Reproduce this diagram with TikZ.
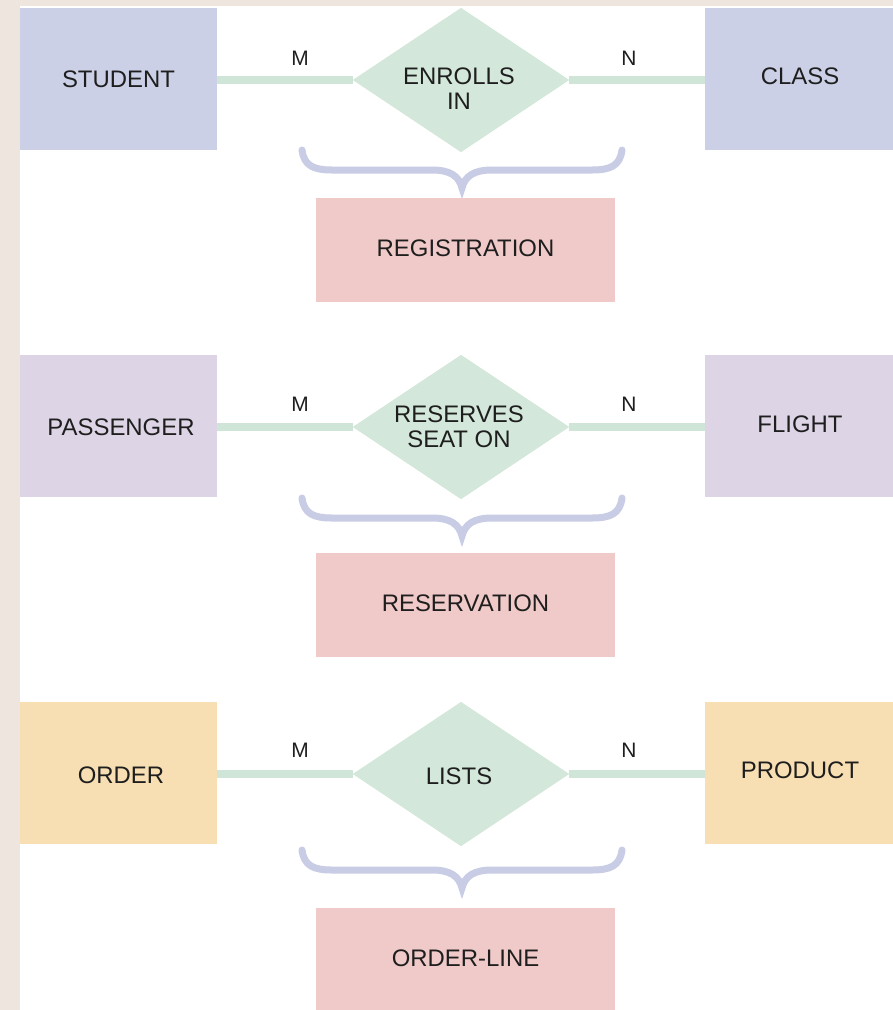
\documentclass[tikz,border=0pt]{standalone}
\usepackage{fontspec}
\setmainfont{Liberation Sans}
\usetikzlibrary{shapes.geometric}
\definecolor{bgbeige}{HTML}{EEE6DE}
\definecolor{entblue}{HTML}{CBD0E7}
\definecolor{entlilac}{HTML}{DDD4E6}
\definecolor{entorange}{HTML}{F7DFB3}
\definecolor{relgreen}{HTML}{D3E7DA}
\definecolor{linkgreen}{HTML}{CFE5D7}
\definecolor{assocpink}{HTML}{F0CAC8}
\definecolor{bracelav}{HTML}{C8CCE5}
\definecolor{txt}{HTML}{1E1E1E}
\tikzset{
  x=1bp, y=-1bp,
  lbl/.style={font=\fontsize{24}{25}\selectfont, text=txt, inner sep=0pt, align=center},
  ent/.style={lbl, minimum width=197bp, minimum height=142bp},
  entr/.style={lbl, minimum width=189bp, minimum height=142bp},
  assoc/.style={lbl, fill=assocpink, minimum width=299bp, minimum height=104bp},
  rel/.style={diamond, fill=relgreen, minimum width=216bp, minimum height=144bp, inner sep=0pt},
  link/.style={draw=linkgreen, line width=7.5bp},
  card/.style={font=\fontsize{21}{22}\selectfont, text=txt, inner sep=0pt},
  erbrace/.pic={
    \draw[bracelav, line width=7bp, line cap=round]
      (-160,-38) .. controls (-158,-22) and (-148,-18) .. (-130,-18)
      -- (-30,-18) .. controls (-12,-18) and (-3,-12) .. (0,0)
      .. controls (3,-12) and (12,-18) .. (30,-18)
      -- (130,-18) .. controls (148,-18) and (158,-22) .. (160,-38);
  }
}
\begin{document}
\begin{tikzpicture}
\useasboundingbox (0,0) rectangle (893,1010);
\fill[bgbeige] (0,0) rectangle (893,1010);
\fill[white] (20,6) rectangle (893,1010);

% Row 1
\node[ent, fill=entblue] (student) at (118.5,79) {STUDENT};
\node[entr, fill=entblue] (class) at (799.5,79) {};
\node[lbl] (classtxt) at (800,76) {CLASS};
\node[rel] (enroll) at (461,80) {};
\draw[link] (student.east |- enroll.west) -- (enroll.west);
\draw[link] (enroll.east) -- (class.west |- enroll.east);
\node[rel] (enroll2) at (461,80) {};
\node[lbl] (enrolltxt) at (459,89) {ENROLLS\\IN};
\node[card] (m1) at (300,58) {M};
\node[card] (n1) at (629,58) {N};
\pic at (462,188) {erbrace};
\node[assoc] (registration) at (465.5,250) {};
\node[lbl] (regtxt) at (465.5,248) {REGISTRATION};

% Row 2
\node[ent, fill=entlilac] (passenger) at (118.5,426) {};
\node[lbl] (passtxt) at (121,427) {PASSENGER};
\node[entr, fill=entlilac] (flight) at (799.5,426) {};
\node[lbl] (flighttxt) at (800,424) {FLIGHT};
\node[rel] (reserves) at (461,427) {};
\draw[link] (passenger.east |- reserves.west) -- (reserves.west);
\draw[link] (reserves.east) -- (flight.west |- reserves.east);
\node[rel] (reserves2) at (461,427) {};
\node[lbl] (reservestxt) at (459,427) {RESERVES\\SEAT ON};
\node[card] (m2) at (300,404) {M};
\node[card] (n2) at (629,404) {N};
\pic at (462,536) {erbrace};
\node[assoc] (reservation) at (465.5,605) {};
\node[lbl] (restxt) at (465.5,603) {RESERVATION};

% Row 3
\node[ent, fill=entorange] (order) at (118.5,773) {};
\node[lbl] (ordertxt) at (121,775) {ORDER};
\node[entr, fill=entorange] (product) at (799.5,773) {};
\node[lbl] (producttxt) at (800,770) {PRODUCT};
\node[rel] (lists) at (461,774) {};
\draw[link] (order.east |- lists.west) -- (lists.west);
\draw[link] (lists.east) -- (product.west |- lists.east);
\node[rel] (lists2) at (461,774) {};
\node[lbl] (liststxt) at (459,776) {LISTS};
\node[card] (m3) at (300,750) {M};
\node[card] (n3) at (629,750) {N};
\pic at (462,888) {erbrace};
\node[assoc] (orderline) at (465.5,960) {};
\node[lbl] (oltxt) at (465.5,958) {ORDER-LINE};
\end{tikzpicture}
\end{document}
